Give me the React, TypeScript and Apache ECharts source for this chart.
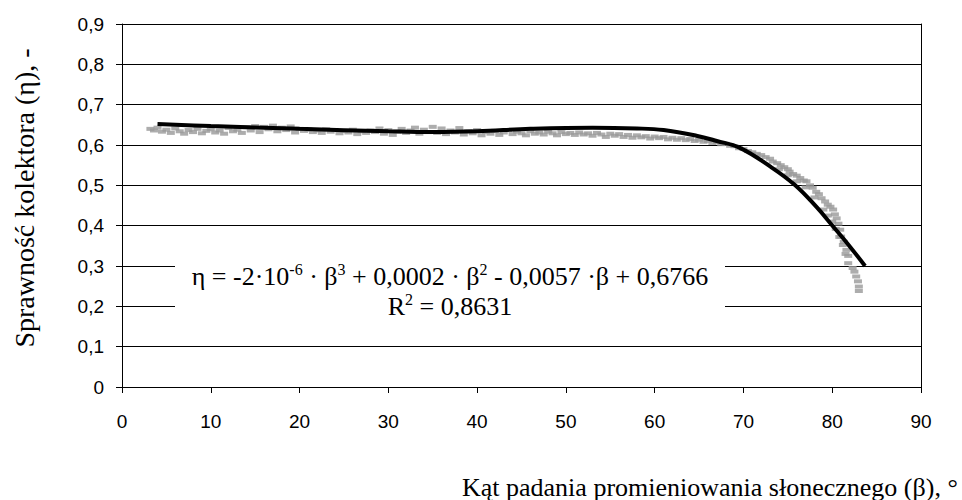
import React, { useEffect, useRef } from "react";
import * as echarts from "echarts";

// Measured efficiency points [beta (deg), eta]
const measuredBeta = [
  3.2, 3.6, 4.0, 4.5, 5.0, 5.5, 6.0, 6.5, 7.0, 7.5, 8.0, 8.5, 9.0, 9.5, 10.0, 10.5, 11.0, 11.5,
  12.0, 12.5, 13.0, 13.5, 14.0, 14.5, 15.0, 15.5, 16.0, 16.5, 17.0, 17.5, 18.0, 18.5, 19.0, 19.5,
  20.0, 20.5, 21.0, 21.5, 22.0, 22.5, 23.0, 23.5, 24.0, 24.5, 25.0, 25.5, 26.0, 26.5, 27.0, 27.5,
  28.0, 28.5, 29.0, 29.5, 30.0, 30.5, 31.0, 31.5, 32.0, 32.5, 33.0, 33.5, 34.0, 34.5, 35.0, 35.5,
  36.0, 36.5, 37.0, 37.5, 38.0, 38.5, 39.0, 39.5, 40.0, 40.5, 41.0, 41.5, 42.0, 42.5, 43.0, 43.5,
  44.0, 44.5, 45.0, 45.5, 46.0, 46.5, 47.0, 47.5, 48.0, 48.5, 49.0, 49.5, 50.0, 50.5, 51.0, 51.5,
  52.0, 52.5, 53.0, 53.5, 54.0, 54.5, 55.0, 55.5, 56.0, 56.5, 57.0, 57.5, 58.0, 58.5, 59.0, 59.5,
  60.0, 60.5, 61.0, 61.5, 62.0, 62.5, 63.0, 63.5, 64.0, 64.5, 65.0, 65.5, 66.0, 66.5, 67.0, 67.5,
  68.0, 68.5, 69.0, 69.5, 70.0, 70.5, 71.0, 71.5, 72.0, 72.5, 73.0, 73.3, 73.8, 74.2, 74.6, 75.0,
  75.2, 75.6, 76.0, 76.4, 76.8, 77.1, 77.5, 77.8, 78.2, 78.5, 78.8, 79.2, 79.5, 79.8, 80.1, 80.3,
  80.5, 80.7, 80.9, 81.0, 81.3, 81.6, 81.8, 81.8, 82.3, 82.5, 82.7, 82.9, 83.0, 83.0,
  74.0, 75.0, 76.0, 77.0, 78.0, 79.0, 79.5, 80.0, 80.4, 80.8, 81.2, 81.5
];
const measuredEta = [
  0.640, 0.636, 0.643, 0.633, 0.638, 0.630, 0.641, 0.634, 0.628, 0.637, 0.632, 0.640, 0.629, 0.635, 0.639, 0.631, 0.636, 0.628,
  0.642, 0.634, 0.638, 0.630, 0.644, 0.636, 0.647, 0.632, 0.645, 0.639, 0.648, 0.634, 0.643, 0.637, 0.646, 0.631,
  0.640, 0.635, 0.638, 0.632, 0.636, 0.630, 0.639, 0.633, 0.637, 0.629, 0.635, 0.631, 0.638, 0.627, 0.634, 0.630,
  0.636, 0.632, 0.641, 0.628, 0.637, 0.625, 0.633, 0.640, 0.630, 0.636, 0.643, 0.628, 0.638, 0.632, 0.645, 0.630,
  0.641, 0.627, 0.636, 0.631, 0.642, 0.626, 0.634, 0.629, 0.637, 0.624, 0.632, 0.628, 0.635, 0.625, 0.631, 0.637,
  0.627, 0.633, 0.629, 0.624, 0.634, 0.628, 0.631, 0.626, 0.633, 0.629, 0.624, 0.632, 0.627, 0.630, 0.625, 0.631,
  0.626, 0.629, 0.623, 0.630, 0.626, 0.620, 0.628, 0.623, 0.627, 0.620, 0.625, 0.618, 0.624, 0.619, 0.622, 0.616,
  0.621, 0.617, 0.620, 0.614, 0.618, 0.613, 0.617, 0.612, 0.615, 0.610, 0.613, 0.608, 0.610, 0.605, 0.607, 0.602,
  0.603, 0.598, 0.597, 0.592, 0.590, 0.585, 0.582, 0.578, 0.575, 0.570, 0.566, 0.559, 0.555, 0.550, 0.545, 0.540,
  0.534, 0.528, 0.524, 0.518, 0.512, 0.510, 0.500, 0.494, 0.484, 0.478, 0.468, 0.460, 0.452, 0.447, 0.440, 0.428,
  0.418, 0.405, 0.390, 0.373, 0.360, 0.340, 0.325, 0.307, 0.295, 0.286, 0.274, 0.262, 0.249, 0.238,
  0.540, 0.525, 0.510, 0.495, 0.470, 0.440, 0.425, 0.410, 0.392, 0.372, 0.352, 0.330
];

// Trend line (3rd-order polynomial fit)
const trendBeta = [4, 10, 20, 30, 35, 40, 46, 53, 58, 61, 64.7, 67, 69.6, 73, 75.8, 78.2, 80.1, 82, 83.7];
const trendEta = [0.652, 0.647, 0.640, 0.634, 0.632, 0.634, 0.640, 0.643, 0.641, 0.637, 0.623, 0.610, 0.593, 0.547, 0.501, 0.447, 0.398, 0.348, 0.300];

const SERIF = "'Liberation Serif', 'Times New Roman', serif";
const SANS = "'Liberation Sans', Arial, sans-serif";

export default function App() {
  const ref = useRef<HTMLDivElement>(null);

  useEffect(() => {
    if (!ref.current) return;
    const chart = echarts.init(ref.current, undefined, { renderer: "svg" });
    const scatterData = measuredBeta.map((b, i) => [b, measuredEta[i]]);
    const trendData = trendBeta.map((b, i) => [b, trendEta[i]]);
    const rich = {
      n: { fontSize: 26, lineHeight: 30, fontFamily: SERIF, fill: "#000", color: "#000" },
      s: { fontSize: 16, lineHeight: 16, verticalAlign: "top", fontFamily: SERIF, fill: "#000", color: "#000" },
    };
    chart.setOption({
      animation: false,
      backgroundColor: "#fff",
      grid: { left: 122, right: 41, top: 24, bottom: 113, containLabel: false },
      xAxis: {
        type: "value",
        min: 0,
        max: 90,
        interval: 10,
        axisLine: { show: true, onZero: false, lineStyle: { color: "#000", width: 1 } },
        axisTick: { show: true, length: 6, lineStyle: { color: "#000" } },
        axisLabel: { color: "#000", fontSize: 19, fontFamily: SANS, margin: 25 },
        splitLine: { show: false },
      },
      yAxis: [
        {
          type: "value",
          min: 0,
          max: 0.9,
          interval: 0.1,
          axisLine: { show: true, lineStyle: { color: "#000", width: 1 } },
          axisTick: { show: true, length: 6, lineStyle: { color: "#000" } },
          axisLabel: {
            color: "#000",
            fontSize: 19,
            fontFamily: SANS,
            margin: 18,
            formatter: (v: number) => (v === 0 ? "0" : v.toFixed(1).replace(".", ",")),
          },
          splitLine: { show: true, lineStyle: { color: "#000", width: 1 } },
        },
        {
          type: "value",
          position: "right",
          min: 0,
          max: 0.9,
          interval: 0.1,
          axisLine: { show: true, lineStyle: { color: "#000", width: 1 } },
          axisTick: { show: false },
          axisLabel: { show: false },
          splitLine: { show: false },
        },
      ],
      series: [
        {
          type: "scatter",
          data: scatterData,
          symbol: "rect",
          symbolSize: [8, 4],
          itemStyle: { color: "#999999" },
          z: 2,
        },
        {
          type: "line",
          data: trendData,
          smooth: 0.4,
          showSymbol: false,
          symbol: "none",
          lineStyle: { color: "#000", width: 4 },
          z: 3,
        },
      ],
      graphic: [
        {
          type: "rect",
          z: 50,
          shape: { x: 175, y: 248, width: 550, height: 76 },
          style: { fill: "#fff" },
        },
        {
          type: "text",
          z: 51,
          x: 450,
          y: 276,
          style: {
            text:
              "{n|η = -2·10}{s|-6}{n| · β}{s|3}{n| + 0,0002 · β}{s|2}{n| - 0,0057 ·β + 0,6766}",
            rich,
            fontFamily: SERIF,
            fontSize: 26,
            align: "center",
            verticalAlign: "middle",
          },
        },
        {
          type: "text",
          z: 51,
          x: 450,
          y: 306,
          style: {
            text: "{n|R}{s|2}{n| = 0,8631}",
            rich,
            fontFamily: SERIF,
            fontSize: 26,
            align: "center",
            verticalAlign: "middle",
          },
        },
        {
          type: "text",
          z: 51,
          x: 24,
          y: 198,
          rotation: Math.PI / 2,
          style: {
            text: "Sprawność kolektora (η), -",
            fontFamily: SERIF,
            fontSize: 28,
            fill: "#000",
            align: "center",
            verticalAlign: "middle",
          },
        },
        {
          type: "text",
          z: 51,
          x: 462,
          y: 487,
          style: {
            text: "Kąt padania promieniowania słonecznego (β), °",
            fontFamily: SERIF,
            fontSize: 26,
            fill: "#000",
            align: "left",
            verticalAlign: "middle",
          },
        },
      ],
    });
    return () => chart.dispose();
  }, []);

  return (
    <div
      ref={ref}
      style={{ position: "fixed", left: 0, top: 0, width: 962, height: 500, background: "#fff" }}
    />
  );
}
